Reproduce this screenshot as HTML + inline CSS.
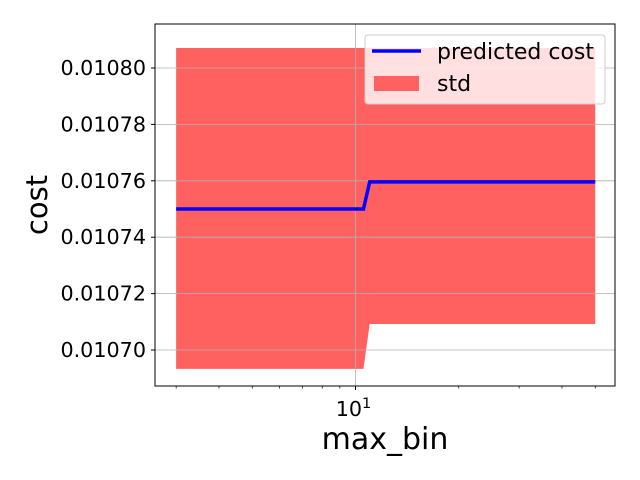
<!DOCTYPE html>
<html><head><meta charset="utf-8"><style>
body{margin:0;background:#fff}
svg{display:block;font-family:"DejaVu Sans","Liberation Sans",sans-serif}
</style></head><body>
<svg id="chart" width="640" height="480">
<g id="fill"></g>
<g id="grid"></g>
<g id="line"></g>
<rect x="155" y="24" width="460" height="362" fill="none" stroke="#000" stroke-width="1"/>
<g id="ticks"></g>
<text x="47" y="205" font-size="29" text-anchor="middle" transform="rotate(-90 47 205)">cost</text>
<text x="385" y="449" font-size="30" text-anchor="middle">max_bin</text>
<g>
<rect x="365" y="35" width="240" height="69" rx="3" fill="#fff" fill-opacity="0.8" stroke="#ccc"/>
<line x1="372" y1="51" x2="421" y2="51" stroke="#0000ff" stroke-width="3.5"/>
<text x="437" y="59" font-size="22">predicted cost</text>
<rect x="374" y="76" width="45" height="15" fill="#ff6060"/>
<text x="437" y="91" font-size="22">std</text>
</g>
</svg>
<script>
const xs=[3,10.55,11,50];
const mean=[0.010750,0.010750,0.0107596,0.0107596];
const upper=[0.0108071,0.0108071,0.0108071,0.0108071];
const lower=[0.0106933,0.0106933,0.0107092,0.0107092];
const yTicks=[0.01070,0.01072,0.01074,0.01076,0.01078,0.01080];
const yTickLabels=["0.01070","0.01072","0.01074","0.01076","0.01078","0.01080"];
const xMinor=[3,4,5,6,7,8,9,20,30,40,50];
const NS="http://www.w3.org/2000/svg";
const X=v=>355.5+Math.log10(v/10)*343;
const Y=v=>350-(v-0.0107)/0.0001*282;
function mk(t,a,p){const e=document.createElementNS(NS,t);for(const k in a)e.setAttribute(k,a[k]);p.appendChild(e);return e;}
const fg=document.getElementById('fill'),gg=document.getElementById('grid'),lg=document.getElementById('line'),tg=document.getElementById('ticks');
let pts=xs.map((x,i)=>X(x)+','+Y(upper[i])).concat(xs.map((x,i)=>X(x)+','+Y(lower[i])).reverse());
const band=mk('polygon',{points:pts.join(' '),fill:'#ff6060'},fg);


yTicks.forEach((v,i)=>{
 const g=mk('line',{x1:155,x2:615,y1:Y(v),y2:Y(v),stroke:'#b0b0b0','stroke-width':0.8},gg);
 
 
 mk('line',{x1:151,x2:155,y1:Y(v),y2:Y(v),stroke:'#000'},tg);
 const t=mk('text',{x:146,y:Y(v)+7,'font-size':20.7,'text-anchor':'end'},tg);
 t.textContent=yTickLabels[i];
 
 
});
const vg=mk('line',{x1:X(10),x2:X(10),y1:24,y2:386,stroke:'#b0b0b0','stroke-width':0.8},gg);


mk('line',{x1:X(10),x2:X(10),y1:386,y2:390,stroke:'#000'},tg);
xMinor.forEach(v=>mk('line',{x1:X(v),x2:X(v),y1:386,y2:388.5,stroke:'#000','stroke-width':0.7},tg));
const xl=mk('text',{x:X(10)-2,y:416,'font-size':20.7,'text-anchor':'middle'},tg);
xl.innerHTML='10<tspan dy="-8" font-size="14.5">1</tspan>';


const pl=mk('polyline',{points:xs.map((x,i)=>X(x)+','+Y(mean[i])).join(' '),fill:'none',stroke:'#0000ff','stroke-width':3.5},lg);


</script>
</body></html>
